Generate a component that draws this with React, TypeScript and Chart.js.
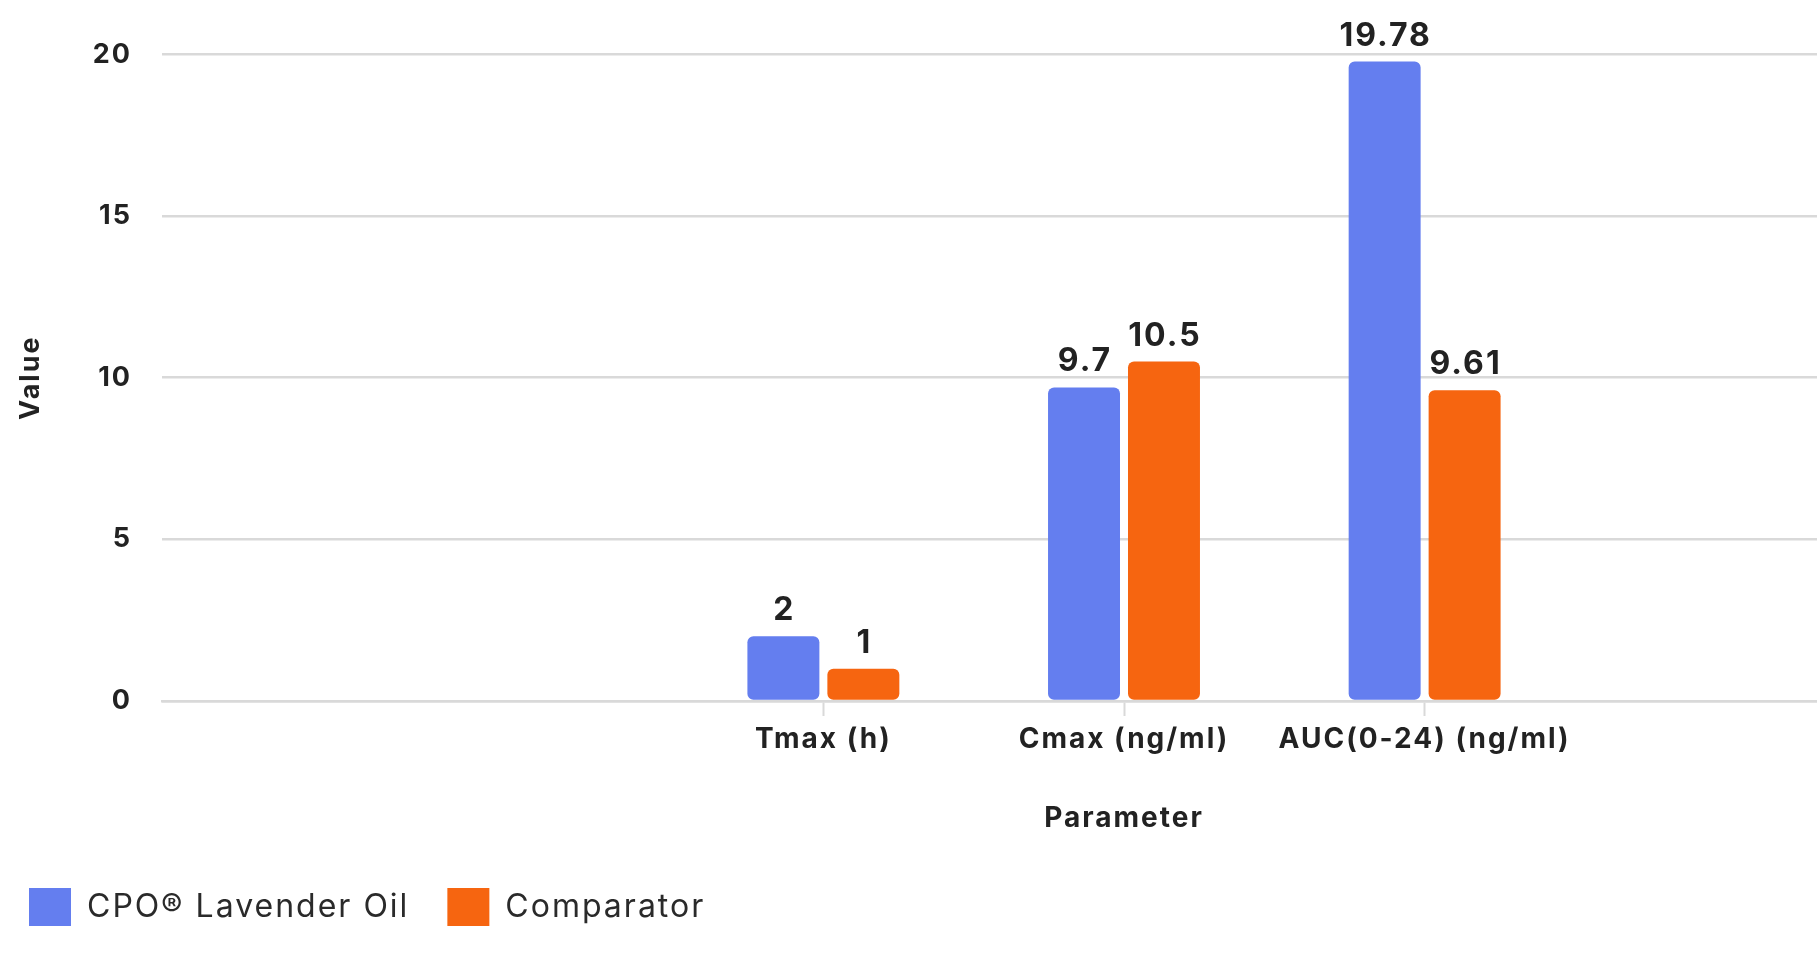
import { useEffect, useRef } from "react";
import { Chart, registerables } from "chart.js";

Chart.register(...registerables);

const categories = ["Tmax (h)", "Cmax (ng/ml)", "AUC(0-24) (ng/ml)"];
const lavenderValues = [2, 9.7, 19.78];
const comparatorValues = [1, 10.5, 9.61];
const seriesNames = ["CPO® Lavender Oil", "Comparator"];
const yTickValues = [0, 5, 10, 15, 20];

const FONT = "Inter, 'Noto Sans', sans-serif";
const BLUE = "rgb(100,126,239)";
const ORANGE = "rgb(246,101,16)";
const GRID = "#d9d9d9";
const TEXT = "#222222";

const spacing = {
  id: "spacing",
  beforeUpdate(chart: any) {
    chart.ctx.letterSpacing = "2px";
  },
  beforeDraw(chart: any) {
    chart.ctx.letterSpacing = "2px";
  },
};

const valueLabels = {
  id: "valueLabels",
  afterDatasetsDraw(chart: any) {
    const ctx = chart.ctx;
    ctx.save();
    ctx.letterSpacing = "2px";
    ctx.font = `700 32px ${FONT}`;
    ctx.fillStyle = TEXT;
    ctx.textAlign = "center";
    ctx.textBaseline = "alphabetic";
    chart.data.datasets.forEach((ds: any, di: number) => {
      const meta = chart.getDatasetMeta(di);
      if (meta.hidden) return;
      meta.data.forEach((el: any, i: number) => {
        const v = ds.data[i].y;
        ctx.fillText(String(v), el.x + 1, el.y - 16);
      });
    });
    ctx.restore();
  },
};

export default function App() {
  const ref = useRef<HTMLCanvasElement | null>(null);

  useEffect(() => {
    if (!ref.current) return;
    const chart = new Chart(ref.current, {
      type: "bar",
      data: {
        datasets: [
          {
            label: seriesNames[0],
            data: lavenderValues.map((v, i) => ({ x: i, y: v })),
            backgroundColor: BLUE,
            borderRadius: 6,
            borderSkipped: false,
            categoryPercentage: 0.532,
            barPercentage: 0.9,
          },
          {
            label: seriesNames[1],
            data: comparatorValues.map((v, i) => ({ x: i, y: v })),
            backgroundColor: ORANGE,
            borderRadius: 6,
            borderSkipped: false,
            categoryPercentage: 0.532,
            barPercentage: 0.9,
          },
        ],
      },
      options: {
        responsive: false,
        animation: false,
        layout: { padding: { left: -9, right: 14, top: 54.4, bottom: 18 } },
        plugins: {
          tooltip: { enabled: false },
          legend: {
            position: "bottom",
            align: "start",
            labels: {
              boxWidth: 42,
              boxHeight: 38,
              padding: 38,
              color: "#2a2a2a",
              font: { family: FONT, size: 32, weight: "400" },
            },
          },
        },
        scales: {
          x: {
            type: "linear",
            min: -2.2,
            max: 4.2,
            bounds: "data",
            offset: false,
            afterBuildTicks: (scale: any) => {
              scale.ticks = categories.map((_, i) => ({ value: i }));
            },
            afterFit: (scale: any) => {
              scale.height = 149;
            },
            grid: {
              drawOnChartArea: false,
              offset: false,
              tickLength: 15,
              tickWidth: 2,
              tickColor: GRID,
            },
            border: { display: true, color: GRID, width: 2.5 },
            ticks: {
              padding: 7,
              color: TEXT,
              font: { family: FONT, size: 28, weight: "700" },
              callback: (v: any) => categories[v] ?? "",
            },
            title: {
              display: true,
              text: "Parameter",
              color: TEXT,
              padding: { top: 4, bottom: 15 },
              font: { family: FONT, size: 28, weight: "700" },
            },
          },
          y: {
            min: 0,
            max: 20,
            afterBuildTicks: (scale: any) => {
              scale.ticks = yTickValues.map((v) => ({ value: v }));
            },
            afterFit: (scale: any) => {
              scale.width = 171;
            },
            grid: { color: GRID, lineWidth: 2.5, drawTicks: false },
            border: { display: false },
            ticks: {
              padding: 30,
              color: TEXT,
              font: { family: FONT, size: 27, weight: "700" },
            },
            title: {
              display: true,
              text: "Value",
              color: TEXT,
              padding: { top: 24, bottom: 0 },
              font: { family: FONT, size: 27, weight: "700" },
            },
          },
        },
      },
      plugins: [spacing, valueLabels],
    });
    return () => chart.destroy();
  }, []);

  return (
    <div
      style={{
        position: "absolute",
        left: 0,
        top: 0,
        width: 1817,
        height: 954,
        overflow: "hidden",
        background: "#ffffff",
      }}
    >
      <canvas ref={ref} width={2100} height={954} style={{ display: "block" }} />
    </div>
  );
}
